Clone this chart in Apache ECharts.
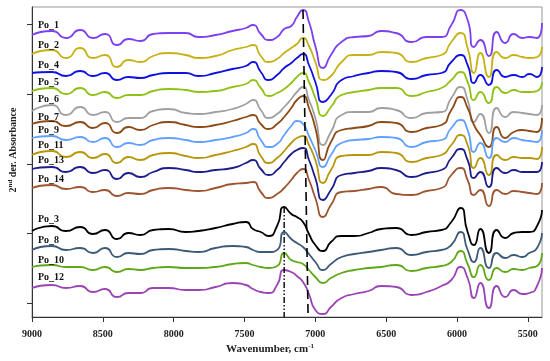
<!DOCTYPE html>
<html><head><meta charset="utf-8">
<script src="https://cdn.jsdelivr.net/npm/echarts@6/dist/echarts.min.js"></script>
<style>html,body{margin:0;padding:0;background:#fff}#c{width:550px;height:361px}</style>
</head><body><div id="c"></div>
<script>
// Wavenumbers (cm-1)
const wavenumbers = [9000, 8860, 8760, 8660, 8570, 8485, 8400, 8320, 8235, 8145, 8035, 7915, 7825, 7705, 7585, 7490, 7440, 7385, 7330, 7270, 7220, 7170, 7130, 7087, 7045, 7000, 6945, 6890, 6815, 6725, 6625, 6535, 6430, 6320, 6215, 6110, 6040, 5975, 5925, 5880, 5835, 5775, 5720, 5660, 5600, 5540, 5490, 5435, 5400];
// Offset 2nd-derivative traces (plotted downward scale, stacked offsets)
const Po_1  = [35,31,38,30,38,34,45,39,41,34,33,33,37,35,31,28,25,34,40,37,29,26,17,10,22,46,68,55,42,37,36,31,33,42,37,37,25,10,20,47,40,56,32,43,34,38,37,38,23];
const Po_2  = [54,50,58,48,58,55,67,60,62,56,53,55,58,56,50,47,45,56,62,59,53,48,44,38,46,62,80,76,62,55,55,52,53,62,58,55,42,33,48,73,53,77,52,58,55,57,58,57,47];
const Po_4  = [73,72,76,71,76,73,80,77,78,75,73,73,76,73,69,66,62,72,80,75,68,63,58,54,65,82,102,95,80,76,73,71,72,79,75,73,62,55,65,83,75,85,70,77,75,77,74,77,67];
const Po_5  = [91,88,94,88,95,92,98,95,95,91,89,90,92,91,87,84,80,88,96,93,89,83,77,73,82,98,116,107,95,92,90,88,88,96,92,88,80,72,82,100,92,103,87,93,90,92,92,91,82];
const Po_6  = [111,105,115,107,115,112,122,118,118,111,109,113,114,112,109,104,100,110,118,114,107,99,92,87,100,118,145,132,115,112,112,108,110,118,113,112,98,87,100,122,114,133,108,117,112,113,114,115,105];
const Po_7  = [124,121,126,122,128,123,133,127,130,125,122,125,127,125,121,117,115,124,129,124,117,108,100,96,108,128,160,142,130,128,126,122,123,132,128,125,110,97,108,125,135,147,127,138,132,130,131,132,118];
const Po_9  = [138,136,140,137,142,138,147,143,145,140,138,140,142,140,137,133,129,140,147,144,135,126,121,124,136,150,167,155,143,140,139,137,138,147,142,140,128,120,130,152,143,158,138,142,138,140,141,142,130];
const Po_11 = [155,151,157,152,158,154,163,157,160,155,153,156,158,155,151,147,144,156,163,158,151,143,138,136,145,160,183,170,156,155,155,152,153,162,158,155,145,135,145,168,158,175,155,160,157,158,158,159,147];
const Po_13 = [169,167,172,167,173,170,179,173,177,172,168,170,172,170,168,163,160,169,175,170,162,154,150,148,160,178,200,190,175,173,171,168,170,177,173,170,158,149,160,178,172,187,168,173,170,172,172,172,162];
const Po_14 = [188,185,189,187,192,190,196,193,194,190,188,190,191,188,184,183,182,192,198,194,188,180,173,169,180,198,217,205,192,191,189,187,194,195,191,188,175,168,180,195,190,206,190,194,191,192,193,194,183];
const Po_3  = [231,226,231,227,234,230,239,233,235,230,229,232,231,228,224,222,229,232,236,226,207,214,217,222,234,245,251,242,236,236,233,229,228,235,232,230,222,208,232,245,229,253,230,238,233,232,232,226,210];
const Po_8  = [250,246,250,248,253,248,257,253,254,250,249,251,252,248,246,247,250,252,252,250,232,239,243,247,254,262,270,264,257,254,252,250,248,255,252,250,245,232,250,262,248,268,253,258,255,257,253,248,233];
const Po_10 = [267,265,267,267,270,267,272,269,270,268,267,268,268,267,264,263,265,267,268,266,253,260,262,264,270,277,283,278,273,270,268,267,265,271,268,266,262,251,264,277,265,280,268,272,269,270,268,266,253];
const Po_12 = [288,285,288,286,292,289,297,293,293,288,288,290,290,287,283,285,289,292,293,285,270,272,276,282,294,310,314,307,298,294,291,286,287,295,292,286,280,267,278,298,283,308,286,297,290,294,293,286,268];

const seriesNames = ['Po_1','Po_2','Po_4','Po_5','Po_6','Po_7','Po_9','Po_11','Po_13','Po_14','Po_3','Po_8','Po_10','Po_12'];
const seriesValues = [Po_1,Po_2,Po_4,Po_5,Po_6,Po_7,Po_9,Po_11,Po_13,Po_14,Po_3,Po_8,Po_10,Po_12];
const seriesColors = ['#7d3ff0','#c6b214','#1010e0','#8fc214','#a0a0a0','#8b4a16','#62a0ff','#b8960b','#1c1c8a','#9c5530','#000000','#3c5a78','#5ea818','#9a44b4'];
// Reference marker lines
const dashedLine = [[7087, 10], [7051, 317]];
const dashDotLine = [[7220, 207], [7220, 317]];
const xTicks = [9000, 8500, 8000, 7500, 7000, 6500, 6000, 5500];
const yTicks = [24, 94, 164, 233, 303];
const labelPos = [26,46,66,83,100,118,131,146,161,180,220,241,261,278];

const chart = echarts.init(document.getElementById('c'), null, {renderer:'canvas'});
const font = 'Liberation Serif';
const series = seriesNames.map((n,k)=>({
  name:n, type:'line', smooth:0.65, symbol:'none',
  data: wavenumbers.map((w,i)=>[w, seriesValues[k][i]]),
  lineStyle:{color:seriesColors[k], width:1.8},
  itemStyle:{color:seriesColors[k]}
}));
series.push({type:'line', symbol:'none', data:dashedLine, lineStyle:{color:'#000', width:1.6, type:[9,5]}, z:5});
series.push({type:'line', symbol:'none', data:dashDotLine, lineStyle:{color:'#000', width:1.4, type:[6,2,1.5,2,1.5,2]}, z:5});

const graphics = seriesNames.map((n,k)=>({type:'text', left:38, top:labelPos[k]-6, z:10,
    style:{text:n, fontFamily:font, fontWeight:'bold', fontSize:10, fill:'#111'}}));
graphics.push({type:'text', x:270, y:349, z:10,
  style:{text:'{a|Wavenumber, cm}{s|-1}', align:'center', verticalAlign:'middle',
    rich:{a:{fontFamily:font, fontWeight:'bold', fontSize:11, fill:'#222'}, s:{fontFamily:font, fontWeight:'bold', fontSize:7, fill:'#222', padding:[0,0,6,0]}}}});
graphics.push({type:'text', x:13, y:150, rotation:Math.PI/2, z:10,
  style:{text:'{a|2}{s|nd}{a| der. Absorbance}', align:'center', verticalAlign:'middle',
    rich:{a:{fontFamily:font, fontWeight:'bold', fontSize:10, fill:'#222'}, s:{fontFamily:font, fontWeight:'bold', fontSize:7, fill:'#222', padding:[0,0,5,0]}}}});

chart.setOption({
  animation:false,
  grid:{left:32, right:8, top:7, bottom:44, show:true, borderColor:'#999', borderWidth:1},
  xAxis:{type:'value', inverse:true, min:5400, max:9000,
    axisLine:{lineStyle:{color:'#333', width:1}},
    axisTick:{customValues:xTicks, length:5, lineStyle:{color:'#333'}},
    axisLabel:{customValues:xTicks, formatter:v=>String(v), fontFamily:font, fontWeight:'bold', fontSize:10, color:'#222', margin:12},
    splitLine:{show:false}
  },
  yAxis:{type:'value', inverse:true, min:7, max:317,
    axisLine:{show:true, lineStyle:{color:'#333', width:1}},
    axisTick:{show:true, customValues:yTicks, length:5, lineStyle:{color:'#333'}},
    axisLabel:{show:false},
    splitLine:{show:false}
  },
  graphic: graphics,
  series: series
});
</script></body></html>
